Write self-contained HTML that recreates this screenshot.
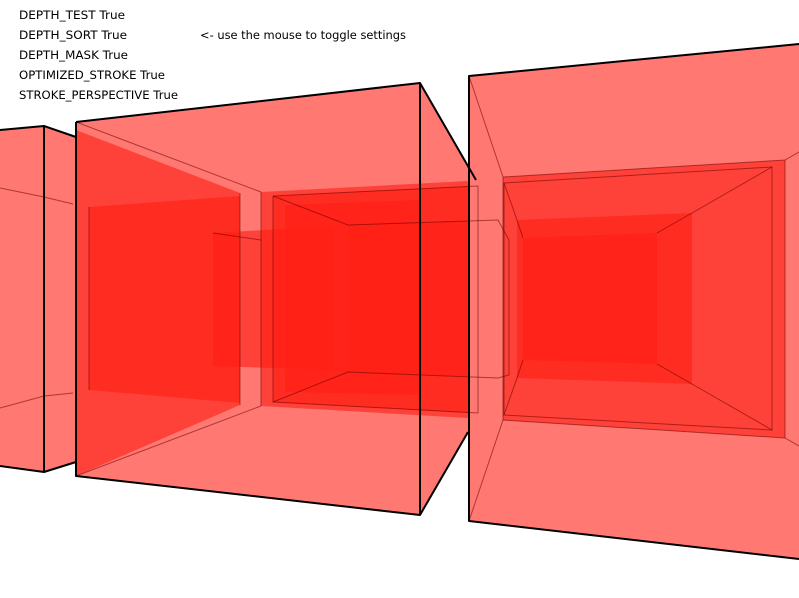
<!DOCTYPE html>
<html><head><meta charset="utf-8"><style>
html,body{margin:0;padding:0;background:#fff;width:799px;height:598px;overflow:hidden}
svg{display:block}
text{font-family:"DejaVu Sans","Liberation Sans",sans-serif;font-size:11.5px;fill:#000}
</style></head><body>
<svg id="scene" width="799" height="598" viewBox="0 0 799 598" xmlns="http://www.w3.org/2000/svg">
<g id="faces"></g>
<g id="thin" stroke="rgba(110,0,0,0.55)" stroke-width="1" fill="none"></g>
<g id="thick" stroke="#000" stroke-width="2" fill="none" stroke-linejoin="round"></g>
<g>
<text x="19" y="19" textLength="106" lengthAdjust="spacingAndGlyphs">DEPTH_TEST True</text>
<text x="19" y="39" textLength="108" lengthAdjust="spacingAndGlyphs">DEPTH_SORT True</text>
<text x="19" y="59" textLength="109" lengthAdjust="spacingAndGlyphs">DEPTH_MASK True</text>
<text x="19" y="79" textLength="146" lengthAdjust="spacingAndGlyphs">OPTIMIZED_STROKE True</text>
<text x="19" y="99" textLength="159" lengthAdjust="spacingAndGlyphs">STROKE_PERSPECTIVE True</text>
<text x="200" y="39" textLength="206" lengthAdjust="spacingAndGlyphs">&lt;- use the mouse to toggle settings</text>
</g>
</svg>
<script>
const faceNames = ['left-box-face','mid-box-front','mid-box-right-face','mid-left-panel','mid-left-inner','mid-box-back','mid2-front','mid2-back','mid-inner-rect','mid-inner-rect-2','right-box-front','right-box-back','right2-back','right3-back'];
const facePolys = [
 [[0,130],[44,126],[76,137],[76,462],[44,472],[0,466]],
 [[76,122],[420,83],[420,515],[76,476]],
 [[420,83],[468,165],[468,432],[420,515]],
 [[76,130],[240,193],[240,405],[76,476]],
 [[89,207],[240,196],[240,403],[89,390]],
 [[261,192],[468,181],[468,418],[261,406]],
 [[273,196],[468,186],[468,413],[273,402]],
 [[348,225],[468,221],[468,376],[348,372]],
 [[213,233],[333,226],[333,370],[213,366]],
 [[285,205],[420,200],[420,395],[285,392]],
 [[469,76],[799,44],[799,559],[469,521]],
 [[503,177],[785,160],[785,438],[503,420]],
 [[517,220],[692,213],[692,384],[517,378]],
 [[523,238],[657,233],[657,364],[523,360]]
];
const thinLines = [
 [[0,188],[44,197],[73,204]],[[0,408],[44,396],[73,393]],
 [[76,122],[261,192]],[[76,476],[261,406]],[[261,192],[261,406]],
 [[240,193],[240,405]],[[89,207],[89,390]],
 [[469,76],[503,177]],[[469,521],[503,420]],[[785,160],[799,152]],[[785,438],[799,446]],
 [[504,183],[517,220]],[[772,167],[692,213]],[[772,430],[692,384]],[[504,415],[517,378]],
 [[517,220],[523,238]],[[692,213],[657,233]],[[692,384],[657,364]],[[517,378],[523,360]],
 [[273,196],[348,225]],[[273,402],[348,372]],[[213,233],[261,240]],
 [[503,177],[785,160],[785,438],[503,420],[503,177]],
 [[504,183],[772,167],[772,430],[504,415],[504,183]],
 [[273,196],[478,186],[478,413],[273,402],[273,196]],
 [[348,225],[498,220],[509,240],[509,375],[498,378],[348,372]]
];
const thickLines = [
 [[0,130],[44,126],[44,472],[0,466]],[[44,126],[76,137]],[[44,472],[76,462]],
 [[76,122],[420,83],[420,515],[76,476],[76,122]],
 [[420,83],[476,180]],[[420,515],[468,432]],
 [[799,44],[469,76],[469,521],[799,559]]
];
const NS='http://www.w3.org/2000/svg';
const pts = p => p.map(q=>q.join(',')).join(' ');
const faces=document.getElementById('faces');
facePolys.forEach((p,i)=>{
  const el=document.createElementNS(NS,'polygon');
  el.setAttribute('points',pts(p));
  el.setAttribute('fill','rgb(255,30,20)');
  el.setAttribute('fill-opacity','0.6');
  
  
  faces.appendChild(el);
});
const thin=document.getElementById('thin');
thinLines.forEach(p=>{
  const el=document.createElementNS(NS,'polyline');
  el.setAttribute('points',pts(p));
  
  
  thin.appendChild(el);
});
const thick=document.getElementById('thick');
thickLines.forEach(p=>{
  const el=document.createElementNS(NS,'polyline');
  el.setAttribute('points',pts(p));
  
  
  thick.appendChild(el);
});
</script>
</body></html>
